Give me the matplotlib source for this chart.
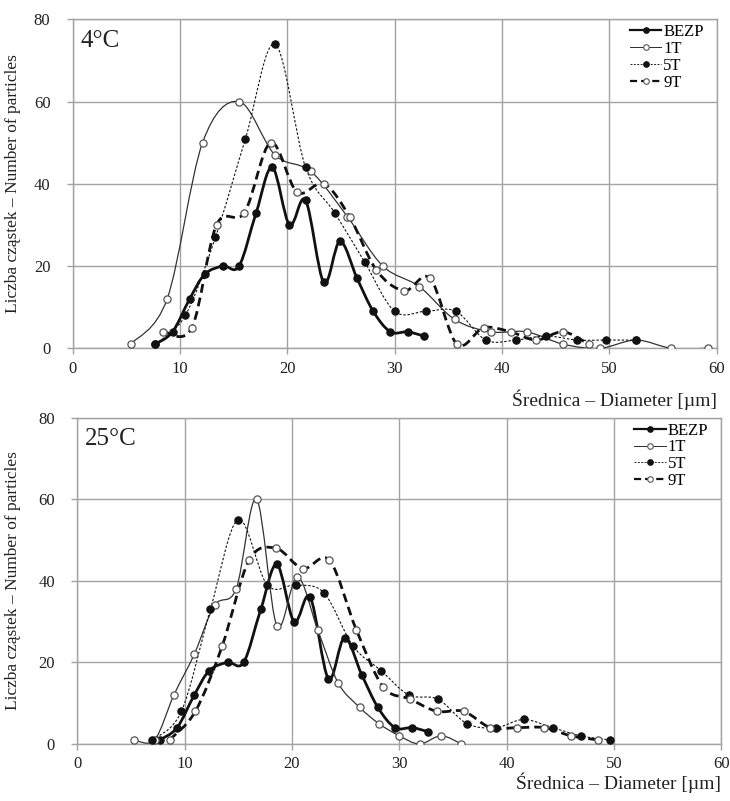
import matplotlib
matplotlib.use("Agg")
import matplotlib.pyplot as plt
from matplotlib.path import Path
from matplotlib.patches import PathPatch
from matplotlib.lines import Line2D

plt.rcParams['font.family'] = ['Liberation Serif', 'DejaVu Serif']

# --- data (diameter in um, number of particles) ---
# control sample, same in both panels
bezp_x = [7.7, 9.3, 10.9, 12.3, 14.0, 15.5, 17.1, 18.6, 20.2, 21.7, 23.4, 24.9, 26.5, 28.0, 29.6, 31.2, 32.7]
bezp_y = [1, 4, 12, 18, 20, 20, 33, 44, 30, 36, 16, 26, 17, 9, 4, 4, 3]

# 4 degC
t4_1t_x = [5.4, 8.8, 12.1, 15.5, 18.85, 22.2, 25.6, 28.9, 32.3, 35.6, 39.0, 42.3, 45.7, 49.1, 52.5, 55.8, 59.2]
t4_1t_y = [1, 12, 50, 60, 47, 43, 32, 20, 15, 7, 4, 4, 1, 0, 2, 0, 0]
t4_5t_x = [7.7, 10.5, 13.3, 16.1, 18.85, 21.7, 24.4, 27.2, 30.0, 32.9, 35.7, 38.5, 41.3, 44.1, 47.0, 49.7, 52.5]
t4_5t_y = [1, 8, 27, 51, 74, 44, 33, 21, 9, 9, 9, 2, 2, 3, 2, 2, 2]
t4_9t_x = [8.45, 11.1, 13.4, 16.0, 18.45, 20.9, 23.4, 25.8, 28.3, 30.9, 33.3, 35.8, 38.3, 40.8, 43.2, 45.7, 48.1]
t4_9t_y = [4, 5, 30, 33, 50, 38, 40, 32, 19, 14, 17, 1, 5, 4, 2, 4, 1]

# 25 degC
t25_1t_x = [5.3, 7.2, 9.0, 10.9, 12.8, 14.8, 16.7, 18.6, 20.5, 22.4, 24.3, 26.3, 28.1, 30.0, 31.9, 33.9, 35.8]
t25_1t_y = [1, 1, 12, 22, 34, 38, 60, 29, 41, 28, 15, 9, 5, 2, 0, 2, 0]
t25_5t_x = [7.0, 9.7, 12.4, 15.0, 17.7, 20.4, 23.0, 25.7, 28.3, 30.9, 33.6, 36.3, 39.0, 41.6, 44.3, 46.9, 49.6]
t25_5t_y = [1, 8, 33, 55, 39, 39, 37, 24, 18, 12, 11, 5, 4, 6, 4, 2, 1]
t25_9t_x = [8.6, 11.0, 13.5, 16.0, 18.5, 21.0, 23.5, 26.0, 28.5, 31.0, 33.5, 36.0, 38.5, 41.0, 43.5, 46.0, 48.5]
t25_9t_y = [1, 8, 24, 45, 48, 43, 45, 28, 14, 11, 8, 8, 4, 4, 4, 2, 1]

labels = ['BEZP', '1T', '5T', '9T']

GRID = '#a3a3a3'
INK = '#111111'
OPEN_EDGE = '#555555'

styles = {
    'BEZP': dict(color=INK, lw=2.0, ls='-', mfc=INK, mec=INK, ms=5.2),
    '1T': dict(color='#333333', lw=0.9, ls='-', mfc='white', mec=OPEN_EDGE, ms=5.2),
    '5T': dict(color=INK, lw=0.8, ls=(0, (2.2, 1.6)), mfc=INK, mec=INK, ms=5.2),
    '9T': dict(color=INK, lw=2.0, ls=(0, (3.2, 1.8)), mfc='white', mec=OPEN_EDGE, ms=5.2),
}


def smooth_path(x, y):
    # Excel-like smoothed line: cubic Bezier through the points
    n = len(x)
    verts = [(x[0], y[0])]
    codes = [Path.MOVETO]
    for i in range(n - 1):
        i0 = max(i - 1, 0)
        i3 = min(i + 2, n - 1)
        c1 = (x[i] + (x[i + 1] - x[i0]) / 6, y[i] + (y[i + 1] - y[i0]) / 6)
        c2 = (x[i + 1] - (x[i3] - x[i]) / 6, y[i + 1] - (y[i3] - y[i]) / 6)
        verts += [c1, c2, (x[i + 1], y[i + 1])]
        codes += [Path.CURVE4] * 3
    return Path(verts, codes)


def draw_panel(ax, series, title, lab_y, ylab_x, leg_anchor):
    for name, (x, y) in zip(labels, series):
        st = styles[name]
        ax.add_patch(PathPatch(smooth_path(x, y), fill=False, edgecolor=st['color'],
                               lw=st['lw'], linestyle=st['ls'], zorder=3,
                               capstyle='butt'))
        ax.plot(x, y, ls='none', marker='o', ms=st['ms'], mfc=st['mfc'],
                mec=st['mec'], mew=0.9, zorder=4)

    ax.set_xlim(0, 60)
    ax.set_ylim(0, 80)
    ax.set_xticks(range(0, 61, 10))
    ax.set_yticks(range(0, 81, 20))
    ax.grid(True, color=GRID, lw=1.0)
    ax.set_axisbelow(True)
    for sp in ax.spines.values():
        sp.set_color(GRID)
        sp.set_linewidth(1.0)
    ax.tick_params(axis='both', direction='out', length=4, width=1.0,
                   color=GRID, labelsize=12, labelcolor='#222222')
    ax.tick_params(axis='y', pad=12)
    ax.tick_params(axis='x', pad=5)

    ax.text(0.012, 0.935, title, transform=ax.transAxes, fontsize=18,
            ha='left', va='center', color='#222222')

    ax.set_ylabel('Liczba cząstek – Number of particles', fontsize=12.5, color='#222222')
    ax.yaxis.set_label_coords(ylab_x, 0.5)
    ax.set_xlabel('Średnica – Diameter [µm]', fontsize=14, color='#222222',
                  ha='right', va='center')
    ax.xaxis.set_label_coords(1.0, lab_y)

    handles = []
    for name in labels:
        st = styles[name]
        handles.append(Line2D([], [], color=st['color'], lw=st['lw'] * 0.8,
                              ls=st['ls'], marker='o', ms=4, mfc=st['mfc'],
                              mec=st['mec'], mew=0.8))
    ax.legend(handles, labels, loc='upper right', bbox_to_anchor=leg_anchor,
              frameon=False, fontsize=12, handlelength=1.9, handletextpad=0.1,
              labelspacing=0.05, borderpad=0.2, borderaxespad=0)


fig = plt.figure(figsize=(7.3, 8.01), dpi=100)
ax1 = fig.add_axes([0.0996, 0.5652, 0.882, 0.4107])
ax2 = fig.add_axes([0.1059, 0.0712, 0.882, 0.4074])

draw_panel(ax1, [(bezp_x, bezp_y), (t4_1t_x, t4_1t_y), (t4_5t_x, t4_5t_y),
                 (t4_9t_x, t4_9t_y)], '4°C', -0.157, -0.08, (0.985, 0.995))
draw_panel(ax2, [(bezp_x, bezp_y), (t25_1t_x, t25_1t_y), (t25_5t_x, t25_5t_y),
                 (t25_9t_x, t25_9t_y)], '25°C', -0.12, -0.087, (0.985, 0.995))

fig.savefig('out.png', dpi=100)
